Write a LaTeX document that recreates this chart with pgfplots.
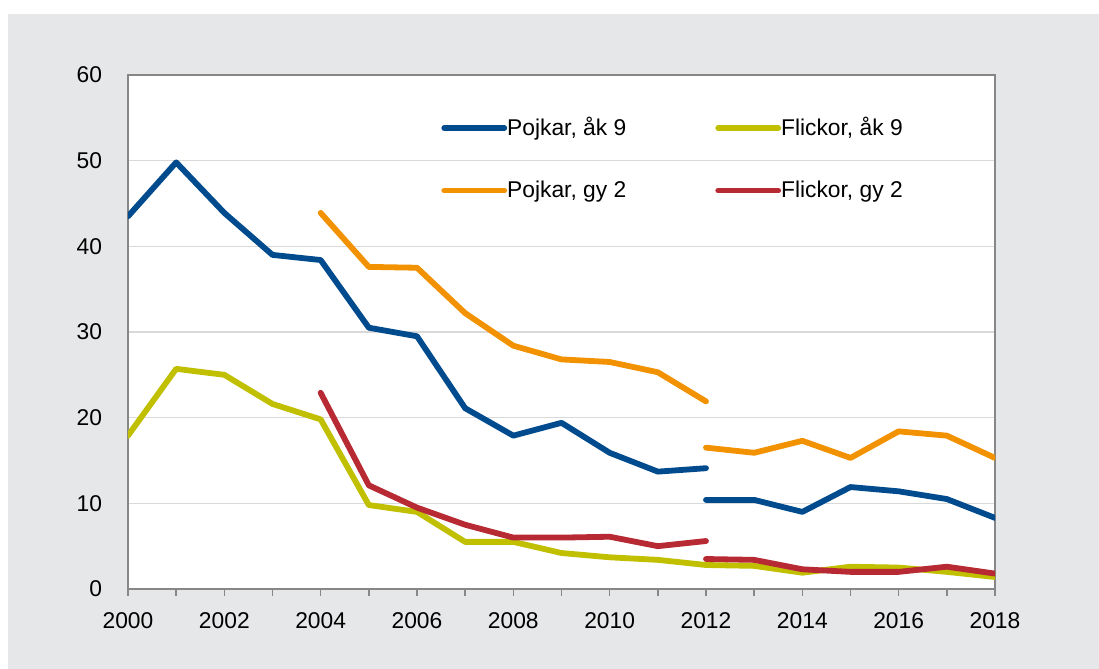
\documentclass[border=0pt]{standalone}
\usepackage{pgfplots}
\pgfplotsset{compat=1.18}
\usepackage{fontspec}
\setmainfont{Liberation Sans}
\definecolor{cblue}{HTML}{004B8D}
\definecolor{cyel}{HTML}{C0BF00}
\definecolor{corange}{HTML}{F39200}
\definecolor{cred}{HTML}{B82A33}
\definecolor{bggrey}{HTML}{E6E7E8}
\definecolor{axgrey}{HTML}{878787}
\definecolor{gridgrey}{HTML}{D9D9D9}
\begin{document}
\begin{tikzpicture}
\path[use as bounding box] (-64pt,-40pt) rectangle (485.5pt,294.5pt);
\fill[white] (-64pt,-40pt) rectangle (485.5pt,294.5pt);
\fill[bggrey] (-60pt,-40pt) rectangle (485.5pt,287.5pt);
\begin{axis}[
  scale only axis,
  width=433.5pt, height=257pt,
  xmin=2000, xmax=2018, ymin=0, ymax=60,
  axis background/.style={fill=white},
  axis line style={draw=axgrey, line width=0.75pt},
  xtick={2000,2002,...,2018},
  minor xtick={2001,2003,...,2017},
  ytick={0,10,...,60},
  xtick pos=bottom,
  tick align=outside,
  major tick length=3.5pt, minor tick length=3.5pt,
  x tick style={draw=axgrey, line width=0.75pt},
  y tick style={draw=none},
  ymajorgrids,
  major grid style={draw=gridgrey, line width=0.75pt},
  xticklabel style={/pgf/number format/1000 sep={}, yshift=-5pt},
  yticklabel style={xshift=-6pt},
  /pgf/number format/assume math mode=true,
  every tick label/.append style={font=\fontsize{11.4}{13}\selectfont, text=black},
  unbounded coords=jump,
  every axis plot/.append style={line width=2.9pt, line join=round, line cap=round},
  legend columns=2,
  legend cell align=left,
  legend image code/.code={\draw[#1, line cap=round] (0pt,0pt) -- (30pt,0pt);},
  legend style={at={(0.361,0.926)}, anchor=north west, draw=none, fill=none,
    font=\fontsize{11.4}{13}\selectfont, inner sep=0pt, row sep=17pt,
    nodes={inner xsep=0pt},
    /tikz/every even column/.append style={column sep=44.5pt}},
]
\addplot[cblue] coordinates {
(2000,43.5) (2001,49.8) (2002,43.9) (2003,39.0) (2004,38.4) (2005,30.5) (2006,29.5)
(2007,21.1) (2008,17.9) (2009,19.4) (2010,15.9) (2011,13.7) (2012,14.1)
(2012,nan)
(2012,10.4) (2013,10.4) (2014,9.0) (2015,11.9) (2016,11.4) (2017,10.5) (2018,8.3)};
\addlegendentry{Pojkar, åk 9}
\addplot[cyel] coordinates {
(2000,17.9) (2001,25.7) (2002,25.0) (2003,21.6) (2004,19.8) (2005,9.8) (2006,9.0)
(2007,5.5) (2008,5.5) (2009,4.2) (2010,3.7) (2011,3.4) (2012,2.8)
(2013,2.7) (2014,1.9) (2015,2.6) (2016,2.5) (2017,2.0) (2018,1.4)};
\addlegendentry{Flickor, åk 9}
\addplot[corange] coordinates {
(2004,43.9) (2005,37.6) (2006,37.5) (2007,32.2) (2008,28.4) (2009,26.8) (2010,26.5)
(2011,25.3) (2012,21.9)
(2012,nan)
(2012,16.5) (2013,15.9) (2014,17.3) (2015,15.3) (2016,18.4) (2017,17.9) (2018,15.3)};
\addlegendentry{Pojkar, gy 2}
\addplot[cred] coordinates {
(2004,22.9) (2005,12.1) (2006,9.5) (2007,7.5) (2008,6.0) (2009,6.0) (2010,6.1)
(2011,5.0) (2012,5.6)
(2012,nan)
(2012,3.5) (2013,3.4) (2014,2.3) (2015,2.0) (2016,2.0) (2017,2.6) (2018,1.8)};
\addlegendentry{Flickor, gy 2}
\end{axis}
\end{tikzpicture}
\end{document}
